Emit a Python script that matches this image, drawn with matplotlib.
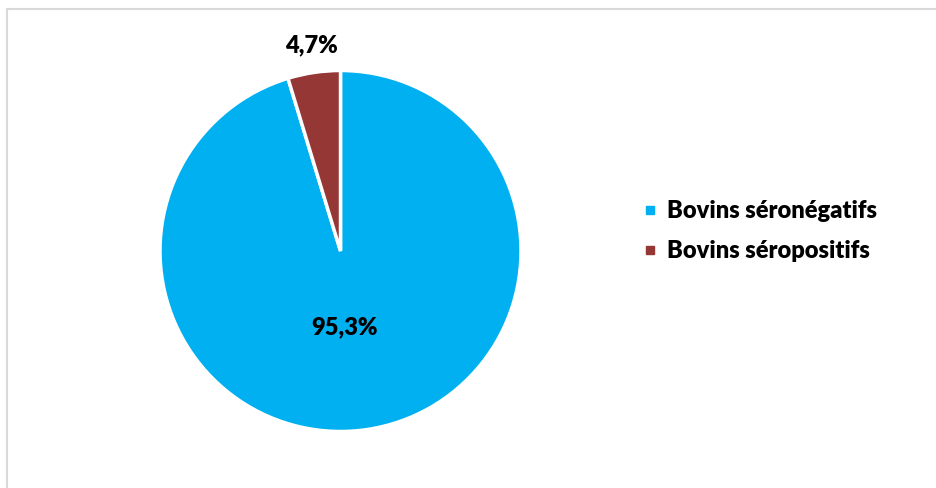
import matplotlib.pyplot as plt
from matplotlib.lines import Line2D
from matplotlib.patches import Rectangle

# Data
labels = ['Bovins séronégatifs', 'Bovins séropositifs']
values = [95.3, 4.7]
colors = ['#00B0F0', '#953735']

plt.rcParams['font.family'] = ['Lato', 'DejaVu Sans']

W, H = 937, 488
fig = plt.figure(figsize=(W / 100, H / 100), dpi=100)

# outer chart frame (only top and left edges visible in the reference)
fig.patches.append(Rectangle((7.5 / W, -0.1), 1.2, (H - 8.5) / H + 0.1,
                             transform=fig.transFigure, fill=False,
                             edgecolor='#D9D9D9', linewidth=1.5))

ax = fig.add_axes([160 / W, (H - 432) / H, 361 / W, 362 / H])


def fmt(p):
    return f'{p:.1f}'.replace('.', ',') + '%'


wedges, texts, autotexts = ax.pie(values, colors=colors, startangle=90,
                                  counterclock=False, autopct=fmt,
                                  wedgeprops=dict(edgecolor='white', linewidth=2.5),
                                  textprops=dict(fontsize=17, fontweight='heavy', color='black'))
ax.set_xlim(-1, 1)
ax.set_ylim(-1, 1)
ax.set_aspect('equal')

# label positions (relative to radius)
autotexts[0].set_position((0.02, -0.425))
autotexts[1].set_position((-0.163, 1.138))

handles = [Line2D([], [], linestyle='none', marker='s', markersize=6,
                  markerfacecolor=c, markeredgecolor=c) for c in colors]
fig.legend(handles, labels, loc='center left', bbox_to_anchor=(623 / W, (H - 231) / H),
           frameon=False, prop=dict(size=17, weight='heavy'),
           handlelength=0.5, handletextpad=0.45, labelspacing=0.75)

fig.savefig('out.png', dpi=100, facecolor='white')
